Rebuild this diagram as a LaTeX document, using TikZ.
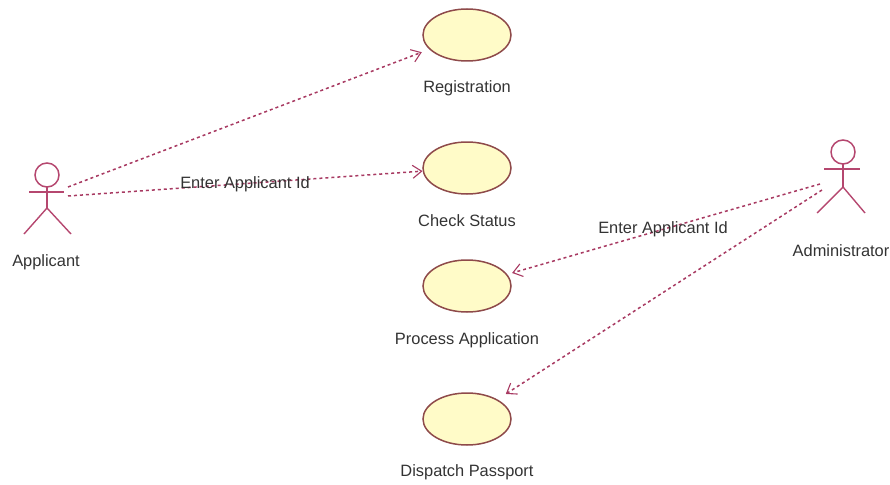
\documentclass[tikz,border=0pt]{standalone}
\usepackage{fontspec}
\setmainfont{Liberation Sans}
\usetikzlibrary{shapes.geometric, arrows.meta}
\definecolor{linea}{HTML}{A83A62}
\definecolor{borde}{HTML}{8E4A4A}
\definecolor{relleno}{HTML}{FFFBC8}
\definecolor{actor}{HTML}{B5476F}
\definecolor{texto}{HTML}{333333}
\tikzset{
  usecase/.style={ellipse, draw=borde, fill=relleno, line width=1.5pt, minimum width=88pt, minimum height=52pt, inner sep=0pt},
  head/.style={circle, draw=actor, line width=1.5pt, minimum size=24pt, inner sep=0pt},
  limb/.style={draw=actor, line width=1.4pt},
  label/.style={text=texto, font=\fontsize{16.4}{19}\selectfont, inner sep=0pt, anchor=base},
  dep/.style={draw=linea, line width=1.5pt, dash pattern=on 3pt off 3pt, -{Straight Barb[length=9pt,width=13pt,line width=1.1pt]}}
}
\begin{document}
\begin{tikzpicture}[x=1pt, y=-1pt]
  \useasboundingbox (0,0) rectangle (890,484);
  % Casos de uso
  \node[usecase] (registration) at (467,35) {};
  \node[usecase] (status) at (467,168) {};
  \node[usecase] (process) at (467,286) {};
  \node[usecase] (dispatch) at (467,419) {};
  \node[label] (lregistration) at (467,93) {Registration};
  \node[label] (lstatus) at (467,226) {Check Status};
  \node[label] (lprocess) at (467,344) {Process Application};
  \node[label] (ldispatch) at (467,476) {Dispatch Passport};

  % Applicant
  \node[head] (head1) at (47,175) {};
  \coordinate (neck1) at (47,187);
  \coordinate (hip1) at (47,208);
  \coordinate (arml1) at (29,192);
  \coordinate (armr1) at (64,192);
  \coordinate (legl1) at (24,234);
  \coordinate (legr1) at (71,234);
  \coordinate (out1) at (68,187);
  \coordinate (out2) at (68,196);
  \node[label] (lapplicant) at (46,266) {Applicant};
  \draw[limb] (neck1) -- (hip1);
  \draw[limb] (arml1) -- (armr1);
  \draw[limb] (legl1) -- (hip1) -- (legr1);

  % Administrator
  \node[head] (head2) at (843,152) {};
  \coordinate (neck2) at (843,164);
  \coordinate (hip2) at (843,187);
  \coordinate (arml2) at (824,169);
  \coordinate (armr2) at (860,169);
  \coordinate (legl2) at (817,213);
  \coordinate (legr2) at (865,213);
  \coordinate (out3) at (820,184);
  \coordinate (out4) at (822,190);
  \node[label] (ladmin) at (841,256) {Administrator};
  \draw[limb] (neck2) -- (hip2);
  \draw[limb] (arml2) -- (armr2);
  \draw[limb] (legl2) -- (hip2) -- (legr2);

  \draw[dep, shorten >=8pt] (out1) -- (registration);
  \draw[dep] (out2) -- (status);
  \draw[dep, shorten >=5pt] (out3) -- (process);
  \draw[dep, shorten >=10pt] (out4) -- (dispatch);

  \node[label] (enter1) at (245,188) {Enter Applicant Id};
  \node[label] (enter2) at (663,233) {Enter Applicant Id};
\end{tikzpicture}
\end{document}
